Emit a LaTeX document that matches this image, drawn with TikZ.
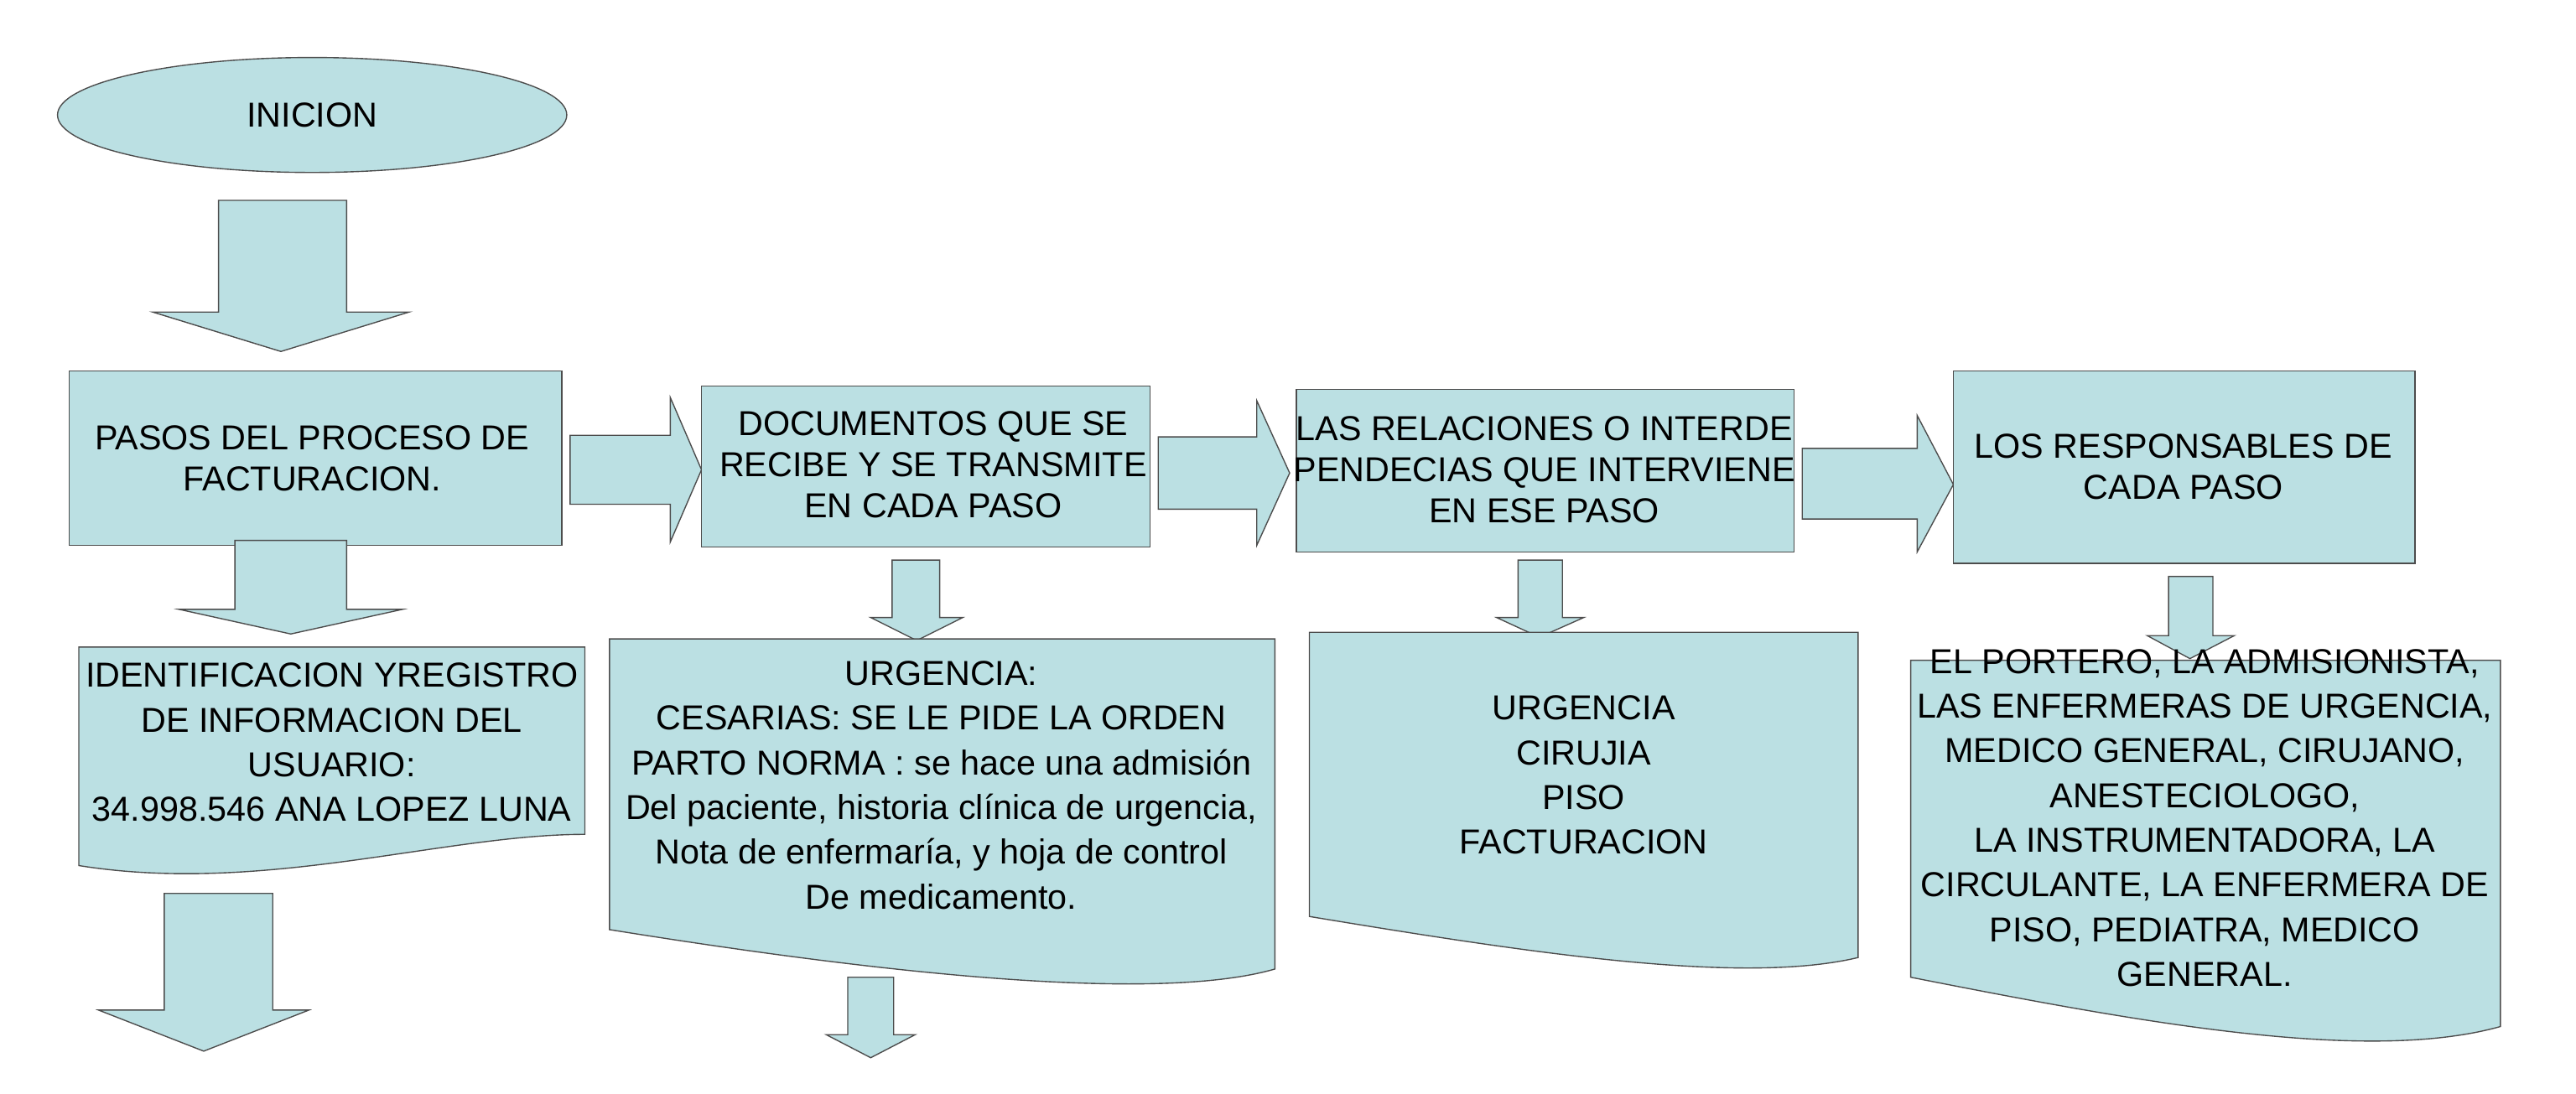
\documentclass[tikz,border=0pt]{standalone}
\usepackage{fontspec}
\setmainfont{Liberation Sans}
\usetikzlibrary{shapes.geometric}
\definecolor{boxfill}{HTML}{BBE0E3}
\tikzset{
  shp/.style={draw=black!70,line width=0.4pt,fill=boxfill},
  txt/.style={align=center,font=\fontsize{12}{14.2}\selectfont,inner sep=0pt}
}
% shaft x1 x2 y1 y2, head x1 x2, tip x y
\newcommand\downblk[8]{%
  \path[shp] (#1,#3)--(#2,#3)--(#2,#4)--(#6,#4)--(#7,#8)--(#5,#4)--(#1,#4)--cycle;}
% shaft x1 x2 y1 y2, head y1 y2, tip x y
\newcommand\rightblk[8]{%
  \path[shp] (#1,#3)--(#2,#3)--(#2,#5)--(#7,#8)--(#2,#6)--(#2,#4)--(#1,#4)--cycle;}
\begin{document}
\begin{tikzpicture}[x={(0.02cm,0)},y={(0,-0.02cm)}]
  \useasboundingbox (0,0) rectangle (1568,666);

  % Start
  \node[shp,ellipse,minimum width=310*0.02cm,minimum height=70*0.02cm,txt] (inicio) at (190,70) {INICION};
  \downblk{133}{211}{122}{190}{93}{249}{171}{214}

  % Top row
  \path[shp] (42,226) rectangle (342,332);
  \node[txt] (pasos) at (190,279) {PASOS DEL PROCESO DE\\FACTURACION.};
  \rightblk{347}{408}{265}{307}{242}{330}{427}{286}
  \path[shp] (427,235) rectangle (700,333);
  \node[txt] (docs) at (568,283) {DOCUMENTOS QUE SE\\RECIBE Y SE TRANSMITE\\EN CADA PASO};
  \rightblk{705}{765}{266}{310}{244}{332}{785}{288}
  \path[shp] (789,237) rectangle (1092,336);
  \node[txt] (relac) at (940,286) {LAS RELACIONES O INTERDE\\PENDECIAS QUE INTERVIENE\\EN ESE PASO};
  \rightblk{1097}{1167}{273}{316}{253}{336}{1189}{295}
  \path[shp] (1189,226) rectangle (1470,343);
  \node[txt] (resp) at (1329,284) {LOS RESPONSABLES DE\\CADA PASO};

  % Arrows down
  \downblk{143}{211}{329}{371}{109}{245}{177}{386}
  \downblk{543}{572}{341}{376}{530}{586}{558}{390}
  \downblk{924}{951}{341}{376}{911}{964}{937}{388}
  \downblk{1320}{1347}{351}{387}{1307}{1360}{1333}{401}

  % Documents
  \path[shp] (48,394)--(356,394)--(356,508) .. controls (270,508) and (160,545) .. (48,527)--cycle;
  \node[txt,font=\fontsize{12}{15.5}\selectfont] (usuario) at (202,452) {IDENTIFICACION YREGISTRO\\DE INFORMACION DEL\\USUARIO:\\34.998.546 ANA LOPEZ LUNA};
  \path[shp] (371,389)--(776,389)--(776,590) .. controls (700,612) and (520,590) .. (371,566)--cycle;
  \node[txt,font=\fontsize{12}{15.5}\selectfont] (urgencia) at (573,478) {URGENCIA:\\CESARIAS: SE LE PIDE LA ORDEN\\PARTO NORMA : se hace una admisión\\Del paciente, historia clínica de urgencia,\\Nota de enfermaría, y hoja de control\\De medicamento.};
  \path[shp] (797,385)--(1131,385)--(1131,583) .. controls (1060,600) and (930,580) .. (797,558)--cycle;
  \node[txt,font=\fontsize{12}{15.5}\selectfont] (areas) at (964,472) {URGENCIA\\CIRUJIA\\PISO\\FACTURACION};
  \path[shp] (1163,402)--(1522,402)--(1522,625) .. controls (1440,648) and (1300,622) .. (1163,595)--cycle;
  \node[txt,font=\fontsize{12}{15.5}\selectfont] (personal) at (1342,498) {EL PORTERO, LA ADMISIONISTA,\\LAS ENFERMERAS DE URGENCIA,\\MEDICO GENERAL, CIRUJANO,\\ANESTECIOLOGO,\\LA INSTRUMENTADORA, LA\\CIRCULANTE, LA ENFERMERA DE\\PISO, PEDIATRA, MEDICO\\GENERAL.};

  % Bottom arrows
  \downblk{100}{166}{544}{615}{60}{188}{124}{640}
  \downblk{516}{544}{595}{630}{503}{557}{530}{644}
\end{tikzpicture}
\end{document}
